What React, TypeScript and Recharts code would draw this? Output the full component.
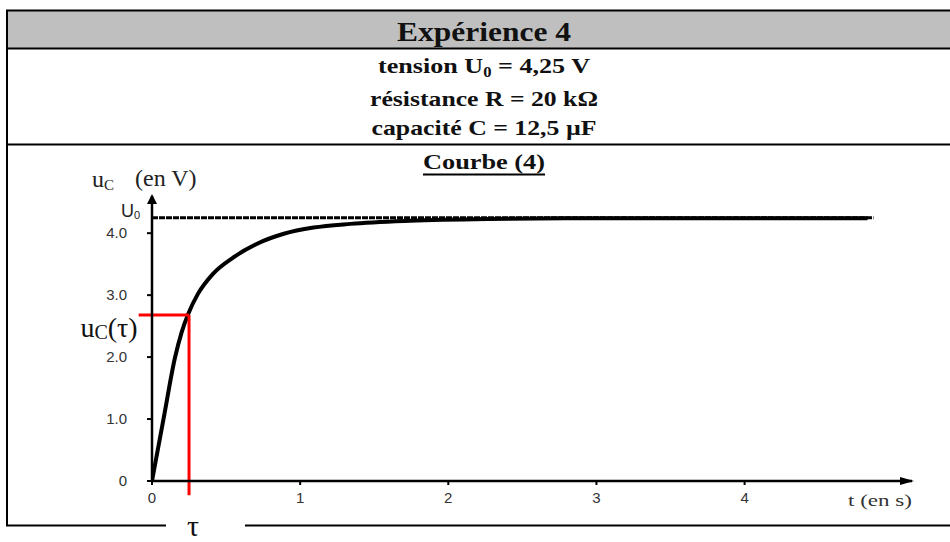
import { LineChart, Line, XAxis, YAxis, ReferenceLine, ReferenceDot } from 'recharts'

// charge du condensateur (4)
const timeS = [0, 0.08, 0.155, 0.2, 0.245, 0.31, 0.41, 0.55, 0.71, 0.89, 1.09, 1.34, 1.74, 2.26, 2.8, 3.4, 4.0, 4.5, 4.83]
const uC = [0, 1.03, 1.99, 2.4, 2.7, 3.02, 3.34, 3.61, 3.83, 3.99, 4.09, 4.15, 4.2, 4.23, 4.24, 4.24, 4.24, 4.24, 4.24]

const xTicks = [0, 1, 2, 3, 4]
const yTicks = [0, 1, 2, 3, 4]

const U0 = 4.25
const TAU = 0.25
const U_TAU = 2.68
const T_MAX = 5.13
const U_MAX = 4.6
const DASH_END = 4.87
const RED_LEFT = -0.09
const RED_BOTTOM = -0.23

const headerLines = ['tension', 'résistance R = 20 kΩ', 'capacité C = 12,5 µF']

const data = timeS.map((t, i) => ({ t, u: uC[i] }))

const serif = '"Liberation Serif", "Times New Roman", serif'
const sans = '"Liberation Sans", Arial, sans-serif'

const Frame = () => (
  <svg width={950} height={542} style={{ position: 'absolute', left: 0, top: 0 }}>
    <rect x={6} y={11} width={980} height={37} fill="#bfbfbf" />
    <line x1={6} y1={10.5} x2={950} y2={10.5} stroke="#000" strokeWidth={2} />
    <line x1={6} y1={48.5} x2={950} y2={48.5} stroke="#000" strokeWidth={2} />
    <line x1={6} y1={144.5} x2={950} y2={144.5} stroke="#000" strokeWidth={2} />
    <line x1={7} y1={10} x2={7} y2={526} stroke="#000" strokeWidth={2} />
    <line x1={6} y1={525.5} x2={166} y2={525.5} stroke="#000" strokeWidth={2} />
    <line x1={245} y1={525.5} x2={950} y2={525.5} stroke="#000" strokeWidth={2} />
    <g fontFamily={serif} fontWeight="bold" fill="#111" textAnchor="middle">
      <text x={484} y={41} fontSize={28} textLength={174} lengthAdjust="spacingAndGlyphs">Expérience 4</text>
      <text x={484} y={73} fontSize={22} textLength={212} lengthAdjust="spacingAndGlyphs">
        {headerLines[0]} U<tspan fontSize={14} dy={4}>0</tspan><tspan dy={-4}> = 4,25 V</tspan>
      </text>
      <text x={484} y={106} fontSize={22} textLength={228} lengthAdjust="spacingAndGlyphs">{headerLines[1]}</text>
      <text x={484} y={135} fontSize={22} textLength={225} lengthAdjust="spacingAndGlyphs">{headerLines[2]}</text>
      <text x={484} y={169} fontSize={22} textLength={122} lengthAdjust="spacingAndGlyphs">Courbe (4)</text>
    </g>
    <line x1={423} y1={174.5} x2={545} y2={174.5} stroke="#000" strokeWidth={2} />
    <text x={92} y={187} fontFamily={serif} fontSize={24} fill="#222">
      u<tspan fontSize={15} dy={3}>C</tspan>
    </text>
    <text x={135} y={186} fontFamily={serif} fontSize={24} fill="#222">(en V)</text>
    <text x={848} y={506} fontFamily={serif} fontSize={17} fill="#333" textLength={64} lengthAdjust="spacingAndGlyphs">t  (en s)</text>
  </svg>
)

const UpArrow = (p: any) => (
  <polygon points={`${p.cx},${p.cy - 2} ${p.cx - 5},${p.cy + 8} ${p.cx + 5},${p.cy + 8}`} fill="#000" />
)

const RightArrow = (p: any) => (
  <polygon points={`${p.cx + 2},${p.cy} ${p.cx - 12},${p.cy - 4} ${p.cx - 12},${p.cy + 4}`} fill="#000" />
)

const U0Label = (p: any) => (
  <text x={p.cx - 12} y={p.cy - 1} textAnchor="end" fontFamily={sans} fontSize={18} fill="#222">
    U<tspan fontSize={11} dy={2}>0</tspan>
  </text>
)

const UTauLabel = (p: any) => (
  <text x={p.cx - 1} y={p.cy + 22} textAnchor="end" fontFamily={serif} fontSize={28} fill="#111">
    u<tspan fontSize={20} dy={2}>C</tspan><tspan dy={-2}>(τ)</tspan>
  </text>
)

const TauLabel = (p: any) => (
  <text x={p.cx + 4} y={p.cy + 41} textAnchor="middle" fontFamily={serif} fontSize={30} fill="#111">τ</text>
)

export default function App() {
  return (
    <div style={{ position: 'absolute', left: 0, top: 0, width: 950, height: 542, background: '#fff' }}>
      <Frame />
      <div style={{ position: 'absolute', left: 0, top: 0 }}>
        <LineChart width={950} height={542} data={data} margin={{ top: 196, right: 38, bottom: 0, left: 0 }}>
          <XAxis
            dataKey="t"
            type="number"
            domain={[0, T_MAX]}
            ticks={xTicks}
            allowDataOverflow
            height={61}
            axisLine={{ stroke: '#000', strokeWidth: 2.5 }}
            tickLine={{ stroke: '#000', strokeWidth: 2 }}
            tickSize={4}
            tickMargin={7}
            tick={{ fill: '#333', fontSize: 15, fontFamily: sans }}
          />
          <YAxis
            type="number"
            domain={[0, U_MAX]}
            ticks={yTicks}
            allowDataOverflow
            width={152}
            axisLine={{ stroke: '#000', strokeWidth: 2.5 }}
            tickLine={{ stroke: '#000', strokeWidth: 2 }}
            tickSize={5}
            tickMargin={20}
            tickFormatter={(v: number) => (v === 0 ? '0' : v.toFixed(1))}
            tick={{ fill: '#333', fontSize: 15, fontFamily: sans }}
          />
          <ReferenceLine
            segment={[{ x: 0, y: U0 }, { x: DASH_END, y: U0 }]}
            stroke="#000"
            strokeWidth={3}
            strokeDasharray="6 1"
          />
          <Line
            type="monotone"
            dataKey="u"
            stroke="#000"
            strokeWidth={4}
            dot={false}
            isAnimationActive={false}
          />
          <ReferenceLine
            segment={[{ x: RED_LEFT, y: U_TAU }, { x: TAU, y: U_TAU }]}
            stroke="#ff0000"
            strokeWidth={3}
            ifOverflow="visible"
          />
          <ReferenceLine
            segment={[{ x: TAU, y: U_TAU }, { x: TAU, y: RED_BOTTOM }]}
            stroke="#ff0000"
            strokeWidth={3}
            ifOverflow="visible"
          />
          <ReferenceDot x={0} y={U_MAX} r={0} shape={UpArrow} ifOverflow="visible" />
          <ReferenceDot x={T_MAX} y={0} r={0} shape={RightArrow} ifOverflow="visible" />
          <ReferenceDot x={0} y={U0} r={0} shape={U0Label} ifOverflow="visible" />
          <ReferenceDot x={RED_LEFT} y={U_TAU} r={0} shape={UTauLabel} ifOverflow="visible" />
          <ReferenceDot x={TAU} y={RED_BOTTOM} r={0} shape={TauLabel} ifOverflow="visible" />
        </LineChart>
      </div>
    </div>
  )
}
